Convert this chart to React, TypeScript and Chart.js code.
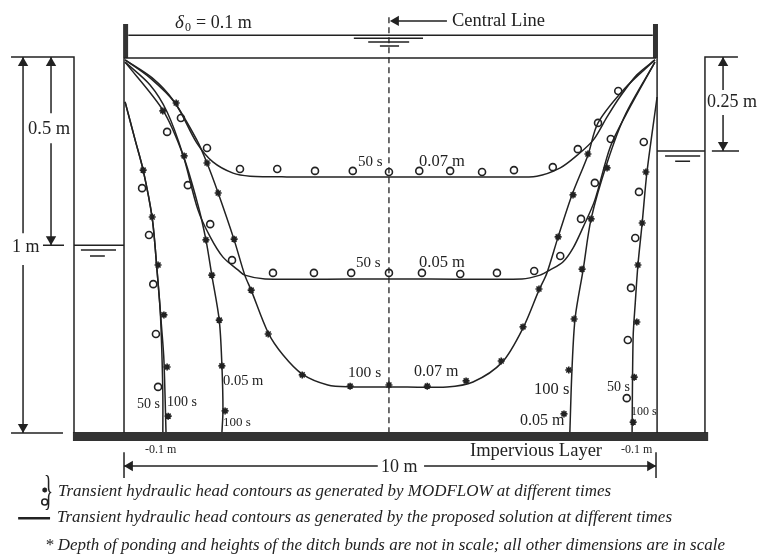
import React, { useEffect, useRef } from "react";
import { Chart, registerables } from "chart.js";

Chart.register(...registerables);

// Values are in metres: distance along the field and height above the impervious layer.
const curve50s007X = [0.02, 0.49, 0.96, 1.37, 1.67, 2.05, 2.37, 3.06, 4.98, 7.07, 7.76, 8.2, 8.52, 8.82, 9.08, 9.32, 9.64, 9.98];
const curve50s007Y = [0.995, 0.947, 0.88, 0.773, 0.723, 0.693, 0.685, 0.683, 0.683, 0.683, 0.685, 0.707, 0.741, 0.781, 0.843, 0.896, 0.955, 0.995];
const curve50s005X = [0.02, 0.49, 0.81, 1.11, 1.39, 1.62, 1.86, 2.14, 2.27, 2.65, 4.98, 7.48, 7.82, 8.01, 8.25, 8.44, 8.63, 8.85, 9.14, 9.45, 9.98];
const curve50s005Y = [0.989, 0.928, 0.856, 0.741, 0.595, 0.523, 0.469, 0.435, 0.421, 0.411, 0.411, 0.411, 0.421, 0.435, 0.456, 0.493, 0.549, 0.621, 0.763, 0.853, 0.989];
const curve100s007X = [0.02, 0.53, 0.92, 1.37, 1.56, 1.77, 2.07, 2.27, 2.39, 2.71, 2.99, 3.35, 3.83, 4.25, 4.98, 6.07, 6.56, 7.11, 7.5, 7.8, 7.95, 8.16, 8.42, 8.72, 8.91, 9.42, 9.98];
const curve100s007Y = [0.995, 0.947, 0.888, 0.781, 0.72, 0.64, 0.515, 0.421, 0.381, 0.267, 0.208, 0.157, 0.128, 0.123, 0.123, 0.123, 0.136, 0.189, 0.28, 0.381, 0.427, 0.523, 0.635, 0.741, 0.827, 0.92, 0.995];
const curve100s005X = [0.02, 0.73, 1.11, 1.39, 1.54, 1.65, 1.79, 1.84, 1.86, 1.84, 5, 8.38, 8.42, 8.48, 8.63, 8.78, 9.08, 9.42, 9.98];
const curve100s005Y = [0.989, 0.861, 0.741, 0.608, 0.515, 0.421, 0.301, 0.181, 0.061, 0, null, 0, 0.168, 0.307, 0.435, 0.571, 0.72, 0.848, 0.989];
const curve50sNegX = [0.02, 0.21, 0.36, 0.53, 0.62, 0.68, 0.71, 0.73, 0.73];
const curve50sNegY = [0.883, 0.781, 0.701, 0.573, 0.435, 0.328, 0.221, 0.101, 0];
const curve100sNegX = [0.02, 0.21, 0.36, 0.53, 0.62, 0.71, 0.75, 0.79, 5, 9.55, 9.57, 9.61, 9.66, 9.74, 9.83, 10.02];
const curve100sNegY = [0.883, 0.781, 0.701, 0.573, 0.435, 0.275, 0.195, 0, null, 0, 0.256, 0.347, 0.448, 0.56, 0.696, 0.896];

const circles007X = [1.07, 1.56, 2.18, 2.88, 3.59, 4.3, 4.98, 5.55, 6.13, 6.73, 7.33, 8.06, 8.53, 8.91, 9.29];
const circles007Y = [0.84, 0.76, 0.704, 0.704, 0.699, 0.699, 0.696, 0.699, 0.699, 0.696, 0.701, 0.709, 0.757, 0.827, 0.912];
const circles005X = [0.81, 1.2, 1.62, 2.03, 2.8, 3.57, 4.27, 4.98, 5.6, 6.32, 7.01, 7.71, 8.2, 8.59, 8.85, 9.15];
const circles005Y = [0.803, 0.661, 0.557, 0.461, 0.427, 0.427, 0.427, 0.427, 0.427, 0.424, 0.427, 0.432, 0.472, 0.571, 0.667, 0.784];
const circlesNegX = [0.34, 0.47, 0.55, 0.6, 0.64, 9.77, 9.68, 9.61, 9.53, 9.47, 9.45];
const circlesNegY = [0.653, 0.528, 0.397, 0.264, 0.123, 0.776, 0.643, 0.52, 0.387, 0.248, 0.093];
const stars007X = [0.98, 1.56, 1.77, 2.07, 2.39, 2.71, 3.35, 4.25, 4.98, 5.7, 6.43, 7.09, 7.5, 7.8, 8.16, 8.44, 8.72];
const stars007Y = [0.88, 0.72, 0.64, 0.517, 0.381, 0.264, 0.155, 0.125, 0.128, 0.125, 0.139, 0.192, 0.283, 0.384, 0.523, 0.635, 0.744];
const stars005X = [0.73, 1.13, 1.54, 1.65, 1.79, 1.84, 1.9, 8.27, 8.36, 8.46, 8.61, 8.78, 9.08];
const stars005Y = [0.859, 0.739, 0.515, 0.421, 0.301, 0.179, 0.059, 0.051, 0.168, 0.304, 0.437, 0.571, 0.707];
const starsNegX = [0.36, 0.53, 0.64, 0.75, 0.81, 0.83, 9.81, 9.74, 9.66, 9.64, 9.59, 9.57];
const starsNegY = [0.701, 0.576, 0.448, 0.315, 0.176, 0.045, 0.696, 0.56, 0.448, 0.296, 0.149, 0.029];

// Site outline: thin segments separated by null heights.
const outlineX = [-2.124, -0.94, -0.94, 5, 0, 0, 5, 0, 10, 5, 0.08, 9.94, 5, 10.02, 10.02, 5, 11.54, 10.92, 10.92, 5, -0.94, 0, 5, 10.02, 10.92, 5, -1.523, -1.128, 5, 11.05, 11.56, 5, -2.124, -1.147, 5, -0.81, -0.15, 5, -0.64, -0.36, 5, 10.17, 10.83, 5, 10.36, 10.64, 5, 4.32, 5.62, 5, 4.59, 5.36, 5, 4.81, 5.17];
const outlineY = [1.003, 1.003, 0, null, 1, 0, null, 1, 1, null, 1.061, 1.061, null, 1, 0, null, 1.003, 1.003, 0, null, 0.501, 0.501, null, 0.752, 0.752, null, 0.501, 0.501, null, 0.752, 0.752, null, 0, 0, null, 0.488, 0.488, null, 0.472, 0.472, null, 0.739, 0.739, null, 0.725, 0.725, null, 1.053, 1.053, null, 1.043, 1.043, null, 1.032, 1.032];
const shaftsX = [-1.898, -1.898, 5, -1.898, -1.898, 5, -1.372, -1.372, 5, -1.372, -1.372, 5, 11.26, 11.26, 5, 11.26, 11.26, 5, 0, 4.77, 5, 5.64, 10, 5, 0, 0, 5, 10, 10, 5, 5.04, 6.07];
const shaftsY = [1.003, 0.533, null, 0.448, 0, null, 1.003, 0.853, null, 0.773, 0.501, null, 1.003, 0.915, null, 0.848, 0.752, null, -0.088, -0.088, null, -0.088, -0.088, null, -0.051, -0.12, null, -0.051, -0.12, null, 1.099, 1.099];
const arrowHeadsX = [-1.898, -1.898, -1.372, -1.372, 11.26, 11.26, 0.11, 9.89, 5.11];
const arrowHeadsY = [0.987, 0.016, 0.987, 0.517, 0.987, 0.768, -0.088, -0.088, 1.099];
const arrowAngles = [0, 180, 0, 180, 0, 180, -90, 90, -90];
const bundX = [0.03, 0.03, 5, 9.99, 9.99];
const bundY = [1, 1.091, null, 1, 1.091];
const layerX = [-0.96, 10.98];
const layerY = [-0.009, -0.009];
const centreX = [4.98, 4.98];
const centreY = [1.109, 0];
const keyLineX = [-1.99, -1.39];
const keyLineY = [-0.227, -0.227];
const keyStarX = [-1.49];
const keyStarY = [-0.152];
const keyCircleX = [-1.49];
const keyCircleY = [-0.184];

const INK = "#222222";
const SERIF = '"Liberation Serif", serif';

const zip = (xs: number[], ys: (number | null)[]) => xs.map((x, i) => ({ x, y: ys[i] }));

const line = (xs: number[], ys: (number | null)[], width = 1.5, tension = 0.3, extra = {}) => ({
  data: zip(xs, ys),
  showLine: true,
  borderColor: INK,
  backgroundColor: INK,
  borderWidth: width,
  tension,
  pointRadius: 0,
  ...extra,
});

const marks = (xs: number[], ys: number[], style: string, radius: number) => ({
  data: zip(xs, ys),
  showLine: false,
  pointStyle: style,
  pointRadius: radius,
  pointBorderWidth: 1.6,
  pointBorderColor: INK,
  pointBackgroundColor: "rgba(0,0,0,0)",
});

type Label = [string, number, number, number, string?, number?];

const labels: Label[] = [
  ["0.5 m", 28, 129, 18.5],
  ["1 m", 12, 247, 18],
  ["0.25 m", 707, 102, 18, "", 50],
  ["Central Line", 452, 21, 18.5, "", 93],
  ["= 0.1 m", 196, 23, 18, "", 57],
  ["50 s", 358, 162, 15],
  ["0.07 m", 419, 162, 16.5],
  ["50 s", 356, 263, 15],
  ["0.05 m", 419, 263, 16.5],
  ["100 s", 348, 373, 15.5],
  ["0.07 m", 414, 372, 16],
  ["50 s", 137, 404, 14],
  ["100 s", 167, 402, 14],
  ["0.05 m", 223, 381, 14.5],
  ["100 s", 223, 423, 13],
  ["100 s", 534, 390, 16.5],
  ["0.05 m", 520, 421, 16],
  ["50 s", 607, 387, 14],
  ["100 s", 631, 412, 12],
  ["-0.1 m", 145, 450, 12],
  ["-0.1 m", 621, 450, 12],
  ["Impervious Layer", 470, 451, 18.5, "", 132],
  ["10 m", 381, 467, 18, "", 40],
  ["Transient hydraulic head contours as generated by MODFLOW at different times", 58, 492, 17, "italic", 553],
  ["Transient hydraulic head contours as generated by the proposed solution at different times", 57, 518, 17, "italic", 615],
  ["* Depth of ponding and heights of the ditch bunds are not in scale; all other dimensions are in scale", 45, 546, 17, "italic", 680],
];

const textPlugin = {
  id: "figureText",
  afterDraw(chart: any) {
    const ctx = chart.ctx;
    ctx.save();
    ctx.fillStyle = INK;
    ctx.textBaseline = "middle";
    ctx.textAlign = "left";
    for (const [text, x, y, size, style, maxWidth] of labels) {
      ctx.font = `${style || "normal"} ${size}px ${SERIF}`;
      if (maxWidth) ctx.fillText(text, x, y, maxWidth);
      else ctx.fillText(text, x, y);
    }
    ctx.font = `italic 19px ${SERIF}`;
    ctx.fillText("δ", 175, 23);
    ctx.font = `12px ${SERIF}`;
    ctx.fillText("0", 185, 28);
    ctx.font = `42px ${SERIF}`;
    ctx.fillText("}", 44, 493, 9);
    ctx.restore();
  },
};

export default function App() {
  const ref = useRef<HTMLCanvasElement | null>(null);
  useEffect(() => {
    const chart = new Chart(ref.current as HTMLCanvasElement, {
      type: "scatter",
      data: {
        datasets: [
          line(outlineX, outlineY, 1.5, 0),
          line(bundX, bundY, 5, 0, { borderColor: "#333333" }),
          line(layerX, layerY, 9, 0, { borderColor: "#333333" }),
          line(centreX, centreY, 1.3, 0, { borderDash: [6, 4] }),
          line(shaftsX, shaftsY, 1.5, 0),
          {
            data: zip(arrowHeadsX, arrowHeadsY),
            showLine: false,
            pointStyle: "triangle",
            pointRadius: 6,
            pointRotation: arrowAngles,
            pointBorderWidth: 0,
            pointBackgroundColor: INK,
          },
          line(curve50s007X, curve50s007Y),
          line(curve50s005X, curve50s005Y),
          line(curve100s007X, curve100s007Y),
          line(curve100s005X, curve100s005Y),
          line(curve50sNegX, curve50sNegY),
          line(curve100sNegX, curve100sNegY),
          marks(circles007X, circles007Y, "circle", 3.5),
          marks(circles005X, circles005Y, "circle", 3.5),
          marks(circlesNegX, circlesNegY, "circle", 3.5),
          marks(stars007X, stars007Y, "star", 3.5),
          marks(stars005X, stars005Y, "star", 3.5),
          marks(starsNegX, starsNegY, "star", 3.5),
          line(keyLineX, keyLineY, 2.5, 0),
          marks(keyStarX, keyStarY, "star", 2.5),
          marks(keyCircleX, keyCircleY, "circle", 3),
        ] as any,
      },
      options: {
        animation: false,
        responsive: false,
        layout: { padding: 0, autoPadding: false },
        plugins: { legend: { display: false }, tooltip: { enabled: false } },
        scales: {
          x: { type: "linear", display: false, min: -2.331, max: 11.917 },
          y: { type: "linear", display: false, min: -0.328, max: 1.1547 },
        },
      },
      plugins: [textPlugin],
    });
    return () => chart.destroy();
  }, []);
  return (
    <div style={{ position: "absolute", left: 0, top: 0, width: 758, height: 556, background: "#fff" }}>
      <canvas ref={ref} width={758} height={556} style={{ display: "block" }} />
    </div>
  );
}
